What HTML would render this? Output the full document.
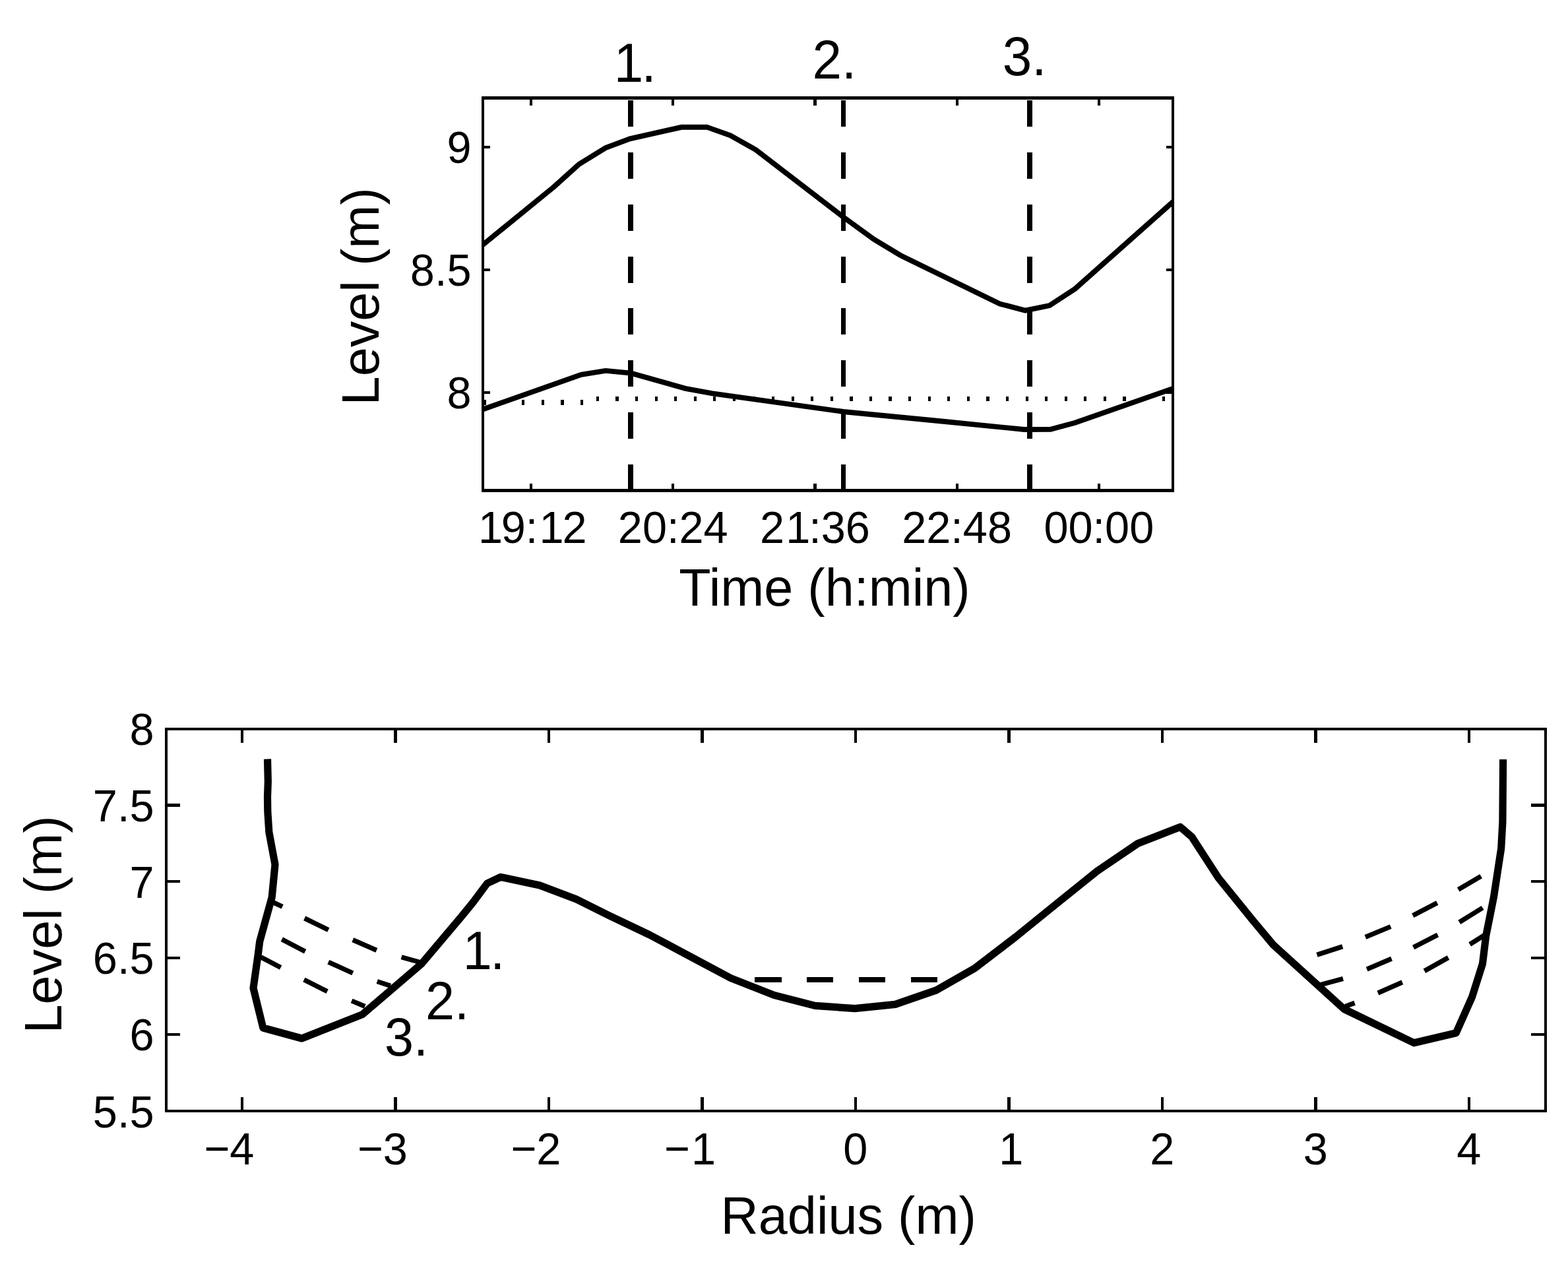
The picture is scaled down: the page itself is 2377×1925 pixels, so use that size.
<!DOCTYPE html>
<html lang="en">
<head>
<meta charset="utf-8">
<title>Level vs time and radial level profile</title>
<style>
html, body { margin: 0; padding: 0; background: #fff; }
body { width: 2377px; height: 1925px; overflow: hidden; }
svg { display: block; }
text { font-family: "Liberation Sans", "DejaVu Sans", sans-serif; }
</style>
</head>
<body>
<svg width="2377" height="1925" viewBox="0 0 2377 1925">
<rect x="0" y="0" width="2377" height="1925" fill="#fff"/>
<g id="top-axes" stroke="#000" fill="none" shape-rendering="crispEdges">
<rect x="732.2" y="148.5" width="1046.00" height="595.10" stroke-width="4.2"/>
<line x1="805.00" y1="743.60" x2="805.00" y2="733.00" stroke-width="4.2" />
<line x1="805.00" y1="148.50" x2="805.00" y2="160.00" stroke-width="4.2" />
<line x1="1020.20" y1="743.60" x2="1020.20" y2="733.00" stroke-width="4.2" />
<line x1="1020.20" y1="148.50" x2="1020.20" y2="160.00" stroke-width="4.2" />
<line x1="1235.40" y1="743.60" x2="1235.40" y2="733.00" stroke-width="4.2" />
<line x1="1235.40" y1="148.50" x2="1235.40" y2="160.00" stroke-width="4.2" />
<line x1="1450.60" y1="743.60" x2="1450.60" y2="733.00" stroke-width="4.2" />
<line x1="1450.60" y1="148.50" x2="1450.60" y2="160.00" stroke-width="4.2" />
<line x1="1665.80" y1="743.60" x2="1665.80" y2="733.00" stroke-width="4.2" />
<line x1="1665.80" y1="148.50" x2="1665.80" y2="160.00" stroke-width="4.2" />
<line x1="732.20" y1="223.00" x2="742.80" y2="223.00" stroke-width="4.2" />
<line x1="1778.20" y1="223.00" x2="1767.60" y2="223.00" stroke-width="4.2" />
<line x1="732.20" y1="409.00" x2="742.80" y2="409.00" stroke-width="4.2" />
<line x1="1778.20" y1="409.00" x2="1767.60" y2="409.00" stroke-width="4.2" />
<line x1="732.20" y1="595.00" x2="742.80" y2="595.00" stroke-width="4.2" />
<line x1="1778.20" y1="595.00" x2="1767.60" y2="595.00" stroke-width="4.2" />
</g>
<clipPath id="cliptop"><rect x="732.2" y="148.5" width="1046.0" height="595.1"/></clipPath>
<g id="top-data" stroke="#000" fill="none" stroke-linejoin="miter" clip-path="url(#cliptop)">
<line x1="732" y1="609.75" x2="737" y2="609.75" stroke-width="7.5" shape-rendering="crispEdges"/>
<line x1="791.2" y1="609.75" x2="895" y2="609.75" stroke-width="7.5" stroke-dasharray="4.2 25.4" shape-rendering="crispEdges"/>
<line x1="903.8" y1="604.25" x2="1778" y2="604.25" stroke-width="6.5" stroke-dasharray="4.2 25.38" shape-rendering="crispEdges"/>
<line x1="956.0" y1="151.8" x2="956.0" y2="746" stroke-width="8" stroke-dasharray="40 38.9" shape-rendering="crispEdges"/>
<line x1="1278.5" y1="151.8" x2="1278.5" y2="746" stroke-width="7" stroke-dasharray="40 38.9" shape-rendering="crispEdges"/>
<line x1="1561.0" y1="151.8" x2="1561.0" y2="746" stroke-width="8" stroke-dasharray="40 38.9" shape-rendering="crispEdges"/>
<polyline points="720.0,380.8 732.0,371.0 840.0,283.0 877.8,248.9 918.1,224.1 955.0,210.3 1033.0,192.8 1071.5,192.6 1107.2,205.3 1145.8,227.1 1278.6,329.1 1324.7,362.6 1365.0,387.0 1515.6,460.5 1554.2,470.6 1591.1,463.0 1629.7,437.8 1778.0,306.0 1790.0,295.4" stroke-width="7.9" />
<polyline points="720.0,624.5 732.0,620.4 881.2,567.8 918.1,561.9 956.7,565.6 1039.0,588.8 1080.0,596.3 1278.2,624.0 1430.0,638.8 1552.6,651.0 1592.5,650.9 1629.8,640.8 1778.0,589.0 1790.0,584.9" stroke-width="7.9" />
</g>
<g id="top-text" fill="#000" font-family='"Liberation Sans", "DejaVu Sans", sans-serif'>
<text transform="translate(928.10,124.00) scale(1,1.04)" font-size="80" text-anchor="start" dx="2.64 -2.64">1.</text>
<text transform="translate(1231.50,119.30) scale(1,1.04)" font-size="80" text-anchor="start">2.</text>
<text transform="translate(1519.70,114.00) scale(1,1.04)" font-size="80" text-anchor="start">3.</text>
<text transform="translate(714.50,247.30) scale(1,1.04)" font-size="66.67" text-anchor="end">9</text>
<text transform="translate(714.50,433.30) scale(1,1.04)" font-size="66.67" text-anchor="end">8.5</text>
<text transform="translate(714.50,619.30) scale(1,1.04)" font-size="66.67" text-anchor="end">8</text>
<text transform="translate(805.00,823.20) scale(1,1.04)" font-size="66.67" text-anchor="middle" dx="2.2 -2.2 0 2.2 -2.2">19:12</text>
<text transform="translate(1020.20,823.20) scale(1,1.04)" font-size="66.67" text-anchor="middle">20:24</text>
<text transform="translate(1235.40,823.20) scale(1,1.04)" font-size="66.67" text-anchor="middle" dx="0 2.2 -2.2 0 0">21:36</text>
<text transform="translate(1450.60,823.20) scale(1,1.04)" font-size="66.67" text-anchor="middle">22:48</text>
<text transform="translate(1665.80,823.20) scale(1,1.04)" font-size="66.67" text-anchor="middle">00:00</text>
<text transform="translate(1250.00,917.50) scale(1,1.01)" font-size="79.2" text-anchor="middle">Time (h:min)</text>
<text transform="translate(573.60,449.40) rotate(-90) scale(1,1.01)" font-size="79.2" text-anchor="middle">Level (m)</text>
</g>
<g id="bot-axes" stroke="#000" fill="none" shape-rendering="crispEdges">
<rect x="251.7" y="1104.7" width="2091.50" height="579.40" stroke-width="4.2"/>
<line x1="366.90" y1="1684.10" x2="366.90" y2="1662.60" stroke-width="4.2" />
<line x1="366.90" y1="1104.70" x2="366.90" y2="1126.20" stroke-width="4.2" />
<line x1="599.40" y1="1684.10" x2="599.40" y2="1662.60" stroke-width="4.2" />
<line x1="599.40" y1="1104.70" x2="599.40" y2="1126.20" stroke-width="4.2" />
<line x1="831.90" y1="1684.10" x2="831.90" y2="1662.60" stroke-width="4.2" />
<line x1="831.90" y1="1104.70" x2="831.90" y2="1126.20" stroke-width="4.2" />
<line x1="1064.40" y1="1684.10" x2="1064.40" y2="1662.60" stroke-width="4.2" />
<line x1="1064.40" y1="1104.70" x2="1064.40" y2="1126.20" stroke-width="4.2" />
<line x1="1296.90" y1="1684.10" x2="1296.90" y2="1662.60" stroke-width="4.2" />
<line x1="1296.90" y1="1104.70" x2="1296.90" y2="1126.20" stroke-width="4.2" />
<line x1="1529.40" y1="1684.10" x2="1529.40" y2="1662.60" stroke-width="4.2" />
<line x1="1529.40" y1="1104.70" x2="1529.40" y2="1126.20" stroke-width="4.2" />
<line x1="1761.90" y1="1684.10" x2="1761.90" y2="1662.60" stroke-width="4.2" />
<line x1="1761.90" y1="1104.70" x2="1761.90" y2="1126.20" stroke-width="4.2" />
<line x1="1994.40" y1="1684.10" x2="1994.40" y2="1662.60" stroke-width="4.2" />
<line x1="1994.40" y1="1104.70" x2="1994.40" y2="1126.20" stroke-width="4.2" />
<line x1="2226.90" y1="1684.10" x2="2226.90" y2="1662.60" stroke-width="4.2" />
<line x1="2226.90" y1="1104.70" x2="2226.90" y2="1126.20" stroke-width="4.2" />
<line x1="251.70" y1="1220.40" x2="273.20" y2="1220.40" stroke-width="4.2" />
<line x1="2343.20" y1="1220.40" x2="2321.10" y2="1220.40" stroke-width="4.2" />
<line x1="251.70" y1="1336.20" x2="273.20" y2="1336.20" stroke-width="4.2" />
<line x1="2343.20" y1="1336.20" x2="2321.10" y2="1336.20" stroke-width="4.2" />
<line x1="251.70" y1="1451.90" x2="273.20" y2="1451.90" stroke-width="4.2" />
<line x1="2343.20" y1="1451.90" x2="2321.10" y2="1451.90" stroke-width="4.2" />
<line x1="251.70" y1="1567.70" x2="273.20" y2="1567.70" stroke-width="4.2" />
<line x1="2343.20" y1="1567.70" x2="2321.10" y2="1567.70" stroke-width="4.2" />
</g>
<g id="bot-data" stroke="#000" fill="none" stroke-linejoin="miter">
<polyline points="405.5,1150.5 406.3,1185.0 405.5,1208.0 405.8,1230.0 407.8,1261.0 417.0,1310.5 412.2,1360.0 393.7,1427.0 391.2,1447.0 384.0,1497.7 398.8,1558.0 457.5,1574.0 549.5,1537.6 638.6,1461.3 698.4,1390.6 717.2,1367.6 738.5,1339.0 758.9,1329.4 818.3,1342.1 873.7,1363.1 922.8,1387.5 984.5,1416.9 1046.2,1449.7 1107.9,1482.6 1173.4,1508.4 1235.5,1524.4 1296.0,1528.6 1357.2,1522.4 1419.4,1500.9 1478.1,1467.3 1539.8,1420.0 1601.5,1370.0 1663.2,1320.3 1724.9,1278.5 1789.2,1253.5 1806.8,1268.6 1847.1,1330.7 1900.0,1396.1 1930.2,1432.2 2037.7,1529.6 2143.5,1580.8 2207.3,1565.7 2231.6,1511.1 2247.5,1460.7 2252.6,1418.8 2264.4,1360.0 2275.7,1286.0 2277.9,1245.8 2278.6,1151.0" stroke-width="11.2" stroke-linejoin="round"/>
<line x1="1144" y1="1485" x2="1185" y2="1485" stroke-width="8" shape-rendering="crispEdges"/>
<line x1="1223" y1="1485" x2="1263" y2="1485" stroke-width="8" shape-rendering="crispEdges"/>
<line x1="1302" y1="1485" x2="1342" y2="1485" stroke-width="8" shape-rendering="crispEdges"/>
<line x1="1381" y1="1485" x2="1421" y2="1485" stroke-width="8" shape-rendering="crispEdges"/>
<line x1="413.90" y1="1367.60" x2="428.10" y2="1374.30" stroke-width="7.3" />
<line x1="461.70" y1="1391.90" x2="497.80" y2="1409.50" stroke-width="7.3" />
<line x1="534.80" y1="1424.60" x2="570.90" y2="1440.30" stroke-width="7.3" />
<line x1="608.60" y1="1450.70" x2="635.50" y2="1458.20" stroke-width="7.3" />
<line x1="427.30" y1="1423.80" x2="462.60" y2="1442.30" stroke-width="7.3" />
<line x1="497.80" y1="1458.20" x2="534.80" y2="1475.00" stroke-width="7.3" />
<line x1="571.70" y1="1487.60" x2="591.90" y2="1494.30" stroke-width="7.3" />
<line x1="395.40" y1="1450.70" x2="425.60" y2="1466.60" stroke-width="7.3" />
<line x1="460.90" y1="1485.10" x2="496.10" y2="1502.70" stroke-width="7.3" />
<line x1="533.10" y1="1517.00" x2="553.20" y2="1525.40" stroke-width="7.3" />
<line x1="1996.50" y1="1447.30" x2="2035.20" y2="1434.70" stroke-width="7.3" />
<line x1="2069.90" y1="1420.40" x2="2108.20" y2="1404.50" stroke-width="7.3" />
<line x1="2141.80" y1="1387.70" x2="2178.70" y2="1368.40" stroke-width="7.3" />
<line x1="2210.70" y1="1348.30" x2="2245.10" y2="1328.10" stroke-width="7.3" />
<line x1="2002.40" y1="1492.60" x2="2036.00" y2="1483.40" stroke-width="7.3" />
<line x1="2072.10" y1="1469.10" x2="2109.50" y2="1453.20" stroke-width="7.3" />
<line x1="2142.60" y1="1435.90" x2="2179.50" y2="1417.10" stroke-width="7.3" />
<line x1="2212.30" y1="1397.80" x2="2247.60" y2="1376.00" stroke-width="7.3" />
<line x1="2039.40" y1="1525.40" x2="2053.60" y2="1520.30" stroke-width="7.3" />
<line x1="2088.90" y1="1505.20" x2="2125.80" y2="1488.90" stroke-width="7.3" />
<line x1="2159.40" y1="1471.70" x2="2195.50" y2="1451.50" stroke-width="7.3" />
<line x1="2228.20" y1="1431.40" x2="2250.90" y2="1417.10" stroke-width="7.3" />
</g>
<g id="bot-text" fill="#000" font-family='"Liberation Sans", "DejaVu Sans", sans-serif'>
<text transform="translate(233.50,1129.00) scale(1,1.04)" font-size="66.67" text-anchor="end">8</text>
<text transform="translate(233.50,1244.70) scale(1,1.04)" font-size="66.67" text-anchor="end">7.5</text>
<text transform="translate(233.50,1360.50) scale(1,1.04)" font-size="66.67" text-anchor="end">7</text>
<text transform="translate(233.50,1476.20) scale(1,1.04)" font-size="66.67" text-anchor="end">6.5</text>
<text transform="translate(233.50,1592.00) scale(1,1.04)" font-size="66.67" text-anchor="end">6</text>
<text transform="translate(233.50,1708.50) scale(1,1.04)" font-size="66.67" text-anchor="end">5.5</text>
<text transform="translate(385.40,1764.50) scale(1,1.04)" font-size="66.67" text-anchor="end">−4</text>
<text transform="translate(617.90,1764.50) scale(1,1.04)" font-size="66.67" text-anchor="end">−3</text>
<text transform="translate(850.40,1764.50) scale(1,1.04)" font-size="66.67" text-anchor="end">−2</text>
<text transform="translate(1085.10,1764.50) scale(1,1.04)" font-size="66.67" text-anchor="end" dx="0 2.2">−1</text>
<text transform="translate(1296.90,1764.50) scale(1,1.04)" font-size="66.67" text-anchor="middle">0</text>
<text transform="translate(1530.50,1764.50) scale(1,1.04)" font-size="66.67" text-anchor="middle" dx="2.2">1</text>
<text transform="translate(1761.90,1764.50) scale(1,1.04)" font-size="66.67" text-anchor="middle">2</text>
<text transform="translate(1994.40,1764.50) scale(1,1.04)" font-size="66.67" text-anchor="middle">3</text>
<text transform="translate(2226.90,1764.50) scale(1,1.04)" font-size="66.67" text-anchor="middle">4</text>
<text transform="translate(1286.20,1870.00) scale(1,1.01)" font-size="79.2" text-anchor="middle">Radius (m)</text>
<text transform="translate(92.60,1401.50) rotate(-90) scale(1,1.01)" font-size="79.2" text-anchor="middle">Level (m)</text>
<text transform="translate(699.20,1468.90) scale(1,1.04)" font-size="79.2" text-anchor="start" dx="2.61 -2.61">1.</text>
<text transform="translate(645.00,1544.70) scale(1,1.04)" font-size="79.2" text-anchor="start">2.</text>
<text transform="translate(583.00,1600.00) scale(1,1.04)" font-size="79.2" text-anchor="start">3.</text>
</g>
</svg>
</body>
</html>
